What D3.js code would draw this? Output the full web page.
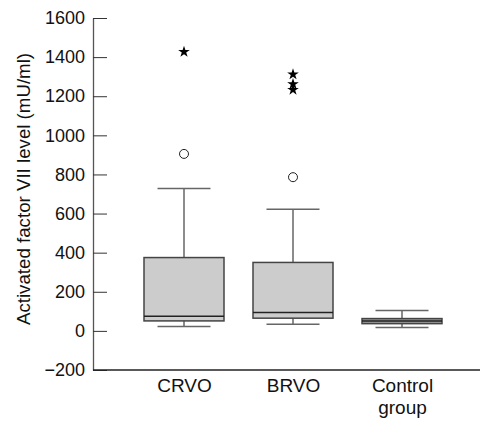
<!DOCTYPE html>
<html><head><meta charset="utf-8">
<script src="https://cdn.jsdelivr.net/npm/d3@7"></script>
<style>body{margin:0;background:#fff}svg{display:block}</style>
</head><body>
<svg id="c" width="482" height="422"></svg>
<script>
const categories = ["CRVO", "BRVO", "Control group"];
const whiskerLow = [22, 34, 17];
const q1 = [51, 65, 37];
const median = [75, 94, 50];
const q3 = [375, 350, 63];
const whiskerHigh = [728, 622, 104];
const circleOutliers = [[905], [786], []];
const starOutliers = [[1427], [1312, 1262, 1233], []];
const yTicks = [-200, 0, 200, 400, 600, 800, 1000, 1200, 1400, 1600];

const svg = d3.select("#c");
const font = "Liberation Sans, Arial, sans-serif";
const y = d3.scaleLinear().domain([-200, 1600]).range([370, 18]);
const x = d3.scalePoint().domain(categories).range([184, 402]);
const axisX0 = 93, axisX1 = 480;
const boxW = 80, capW = 53;

// y axis
const ya = svg.append("g").attr("transform", `translate(${axisX0},0)`)
  .call(d3.axisLeft(y).tickValues(yTicks).tickSizeInner(-14).tickSizeOuter(0).tickPadding(8)
    .tickFormat(d => d < 0 ? "\u2212" + Math.abs(d) : d));
ya.select(".domain").attr("stroke", "#555").attr("stroke-width", 1.3);
ya.selectAll(".tick line").attr("stroke", "#333").attr("stroke-width", 1);
ya.selectAll(".tick text").attr("font-family", font).attr("font-size", 18).attr("fill", "#111");

// x axis
const xa = svg.append("g").attr("transform", `translate(0,${y(-200)})`)
  .call(d3.axisBottom(x).tickSize(0).tickPadding(9));
xa.select(".domain").remove();
svg.append("line").attr("x1", axisX0).attr("x2", axisX1).attr("y1", y(-200)).attr("y2", y(-200))
  .attr("stroke", "#222").attr("stroke-width", 1.3);
xa.selectAll(".tick text").attr("font-family", font).attr("font-size", 19).attr("fill", "#111")
  .each(function(d) {
    const t = d3.select(this);
    const words = d.split(" ");
    t.text(null);
    words.forEach((w, i) => t.append("tspan").attr("x", 0).attr("dy", i === 0 ? "0.71em" : "1.15em").text(w));
  });

// y title
svg.append("text").attr("transform", "translate(30,189) rotate(-90)")
  .attr("text-anchor", "middle").attr("font-family", font).attr("font-size", 18.7).attr("fill", "#111")
  .text("Activated factor VII level (mU/ml)");

// boxes
const g = svg.append("g");
categories.forEach((c, i) => {
  const cx = x(c);
  const wc = "#666";
  g.append("line").attr("x1", cx).attr("x2", cx).attr("y1", y(whiskerHigh[i])).attr("y2", y(q3[i])).attr("stroke", wc).attr("stroke-width", 1.5);
  g.append("line").attr("x1", cx).attr("x2", cx).attr("y1", y(q1[i])).attr("y2", y(whiskerLow[i])).attr("stroke", wc).attr("stroke-width", 1.5);
  g.append("line").attr("x1", cx - capW / 2).attr("x2", cx + capW / 2).attr("y1", y(whiskerHigh[i])).attr("y2", y(whiskerHigh[i])).attr("stroke", wc).attr("stroke-width", 1.5);
  g.append("line").attr("x1", cx - capW / 2).attr("x2", cx + capW / 2).attr("y1", y(whiskerLow[i])).attr("y2", y(whiskerLow[i])).attr("stroke", wc).attr("stroke-width", 1.5);
  g.append("rect").attr("x", cx - boxW / 2).attr("width", boxW).attr("y", y(q3[i])).attr("height", y(q1[i]) - y(q3[i]))
    .attr("fill", i === 2 ? "#999" : "#cccccc").attr("stroke", "#444").attr("stroke-width", 1.5);
  g.append("line").attr("x1", cx - boxW / 2).attr("x2", cx + boxW / 2).attr("y1", y(median[i])).attr("y2", y(median[i])).attr("stroke", "#222").attr("stroke-width", 1.5);
  circleOutliers[i].forEach(v => g.append("circle").attr("cx", cx).attr("cy", y(v)).attr("r", 4.5).attr("fill", "#fff").attr("stroke", "#222").attr("stroke-width", 1));
  starOutliers[i].forEach(v => g.append("path").attr("transform", `translate(${cx},${y(v)})`)
    .attr("d", d3.symbol(d3.symbolStar, 42)()).attr("fill", "#000"));
});
</script>
</body></html>
